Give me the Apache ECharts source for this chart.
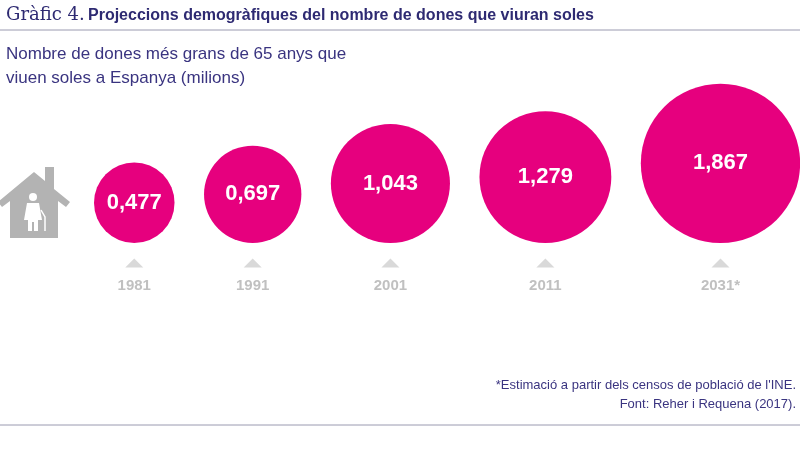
<!DOCTYPE html>
<html>
<head>
<meta charset="utf-8">
<script src="https://cdn.jsdelivr.net/npm/echarts@6/dist/echarts.min.js"></script>
<style>body{margin:0}</style>
</head>
<body>
<div id="main" style="width:800px;height:464px;"></div>
<script>
var chart = echarts.init(document.getElementById('main'));

var years = ['1981', '1991', '2001', '2011', '2031*'];
var values = [0.477, 0.697, 1.043, 1.279, 1.867];
var valueLabels = ['0,477', '0,697', '1,043', '1,279', '1,867'];

// bubble radius from value (area ~ value)
var radii = values.map(function (v) { return 58.3 * Math.sqrt(v); });
var gap = 29.5, startX = 94, baseY = 243;
var centers = [];
var x = startX;
radii.forEach(function (r) { centers.push(x + r); x += 2 * r + gap; });

var bubbles = values.map(function (v, i) {
    return {
        value: [centers[i], baseY],
        symbolSize: radii[i] * 2,
        symbolOffset: [0, -radii[i]],
        label: { formatter: valueLabels[i] }
    };
});
var marks = centers.map(function (c, i) { return { value: [c, 263], name: years[i] }; });

var navy = '#2e2a72';
option = {
    animation: false,
    grid: { left: 0, right: 0, top: 0, bottom: 0 },
    xAxis: { type: 'value', min: 0, max: 800, show: false },
    yAxis: { type: 'value', min: 0, max: 464, inverse: true, show: false },
    graphic: [
        { type: 'text', left: 6, top: 6, style: { text: 'Gràfic 4.', font: '18px "DejaVu Serif"', fill: navy } },
        { type: 'text', left: 88, top: 8, style: { text: 'Projeccions demogràfiques del nombre de dones que viuran soles', font: 'bold 16px "Liberation Sans"', fill: navy } },
        { type: 'line', shape: { x1: 0, y1: 30, x2: 800, y2: 30 }, style: { stroke: '#9a9ab0', lineWidth: 1 } },
        { type: 'text', left: 6, top: 42, style: { text: 'Nombre de dones més grans de 65 anys que\nviuen soles a Espanya (milions)', font: '17px "Liberation Sans"', fill: '#3a3480', lineHeight: 24 } },
        { type: 'text', x: 796, y: 376, style: { text: '*Estimació a partir dels censos de població de l\'INE.\nFont: Reher i Requena (2017).', font: '13px "Liberation Sans"', fill: '#3a3480', align: 'right', lineHeight: 19 } },
        { type: 'line', shape: { x1: 0, y1: 425, x2: 800, y2: 425 }, style: { stroke: '#9a9ab0', lineWidth: 1 } },
        { type: 'polygon', shape: { points: [[-2, 202], [34, 172], [45, 181], [45, 167], [54, 167], [54, 189], [70, 202], [66, 207], [58, 201], [58, 238], [10, 238], [10, 201], [2, 207]] }, style: { fill: '#b3b3b3' } },
        { type: 'circle', shape: { cx: 33, cy: 197, r: 4 }, style: { fill: '#fff' } },
        { type: 'polygon', shape: { points: [[27, 203], [39, 203], [42, 220], [38, 220], [38, 231], [34, 231], [34, 222], [32, 222], [32, 231], [28, 231], [28, 220], [24, 220]] }, style: { fill: '#fff' } },
        { type: 'polyline', shape: { points: [[41, 210], [45, 217], [45, 231]] }, style: { stroke: '#fff', lineWidth: 1.5, fill: null } }
    ],
    series: [
        {
            type: 'scatter', symbol: 'circle', data: bubbles,
            itemStyle: { color: '#e6007e', opacity: 1 },
            label: { show: true, position: 'inside', color: '#fff', fontSize: 22, fontWeight: 'bold', fontFamily: 'Liberation Sans' }
        },
        {
            type: 'scatter', symbol: 'triangle', symbolSize: [18, 9], data: marks,
            itemStyle: { color: '#cfcfcf' },
            label: { show: true, position: 'bottom', distance: 11, formatter: '{b}', color: '#b0b0b0', fontSize: 15, fontWeight: 'bold', fontFamily: 'Liberation Sans' }
        }
    ]
};
chart.setOption(option);
</script>
</body>
</html>
